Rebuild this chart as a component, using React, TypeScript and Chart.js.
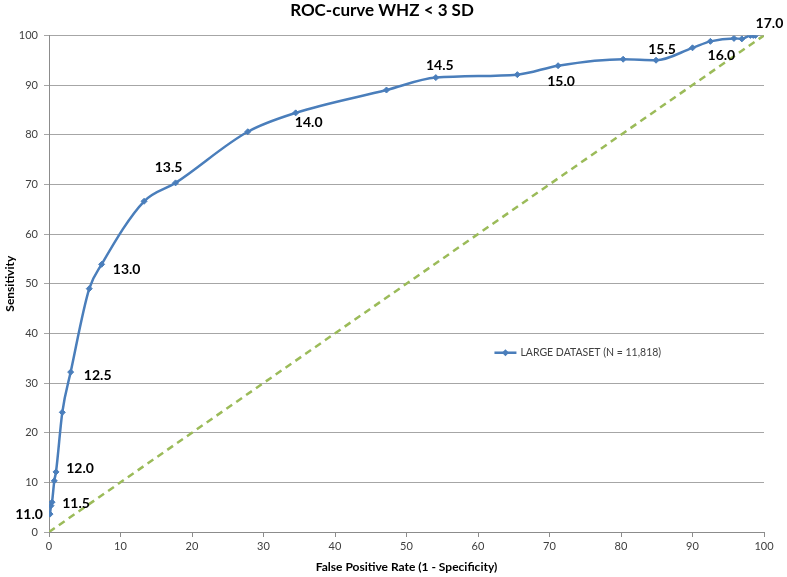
import React, { useEffect, useRef } from "react";
import { Chart, registerables } from "chart.js";

Chart.register(...registerables);

// False positive rate (1 - specificity), %
const fpr = [0.14, 0.28, 0.42, 0.74, 0.98, 1.86, 3.03, 5.63, 7.36, 13.3, 17.7, 27.8, 34.5, 47.2, 54.1, 65.5, 71.2, 80.3, 84.9, 90.0, 92.5, 95.8, 96.9, 98.1, 98.5, 98.8];
// Sensitivity, %
const sensitivity = [3.6, 5.3, 6.0, 10.3, 12.1, 24.1, 32.2, 49.0, 53.9, 66.6, 70.3, 80.6, 84.4, 89.0, 91.5, 92.1, 93.9, 95.2, 95.0, 97.5, 98.8, 99.4, 99.3, 100, 100, 100];
// Cut-off labels (empty = unlabeled point)
const cutoffs = ["11.0", "", "11.5", "", "12.0", "", "12.5", "", "13.0", "", "13.5", "", "14.0", "", "14.5", "", "15.0", "", "15.5", "", "16.0", "", "", "", "", "17.0"];
const referenceLine = [
  { x: 0, y: 0 },
  { x: 100, y: 100 },
];
const seriesName = "LARGE DATASET (N = 11,818)";
const titleText = "ROC-curve WHZ < 3 SD";
const xTitle = "False Positive Rate (1 - Specificity)";
const yTitle = "Sensitivity";

// label offsets (style), in pixels, keyed by cut-off text
const labelOffsets: Record<string, [number, number]> = {
  "11.0": [-21, 0],
  "11.5": [24, 1],
  "12.0": [24, -3],
  "12.5": [27, 3],
  "13.0": [25, 5],
  "13.5": [-7, -15],
  "14.0": [13, 10],
  "14.5": [4, -12],
  "15.0": [3, 16],
  "15.5": [6, -11],
  "16.0": [11, 14],
  "17.0": [14, -12],
};

const FONT = "Lato";
const BLUE = "#4A7EBB";
const GREEN = "#9BBB59";

const labelPlugin = {
  id: "cutoffLabels",
  afterDatasetsDraw(chart: any) {
    const ctx = chart.ctx;
    const meta = chart.getDatasetMeta(1);
    ctx.save();
    ctx.font = `bold 14px ${FONT}`;
    ctx.fillStyle = "#000000";
    ctx.textAlign = "center";
    ctx.textBaseline = "middle";
    meta.data.forEach((pt: any, i: number) => {
      const t = cutoffs[i];
      if (!t) return;
      const off = labelOffsets[t] || [0, -12];
      ctx.fillText(t, pt.x + off[0], pt.y + off[1]);
    });
    ctx.restore();
  },
};

const legendPlugin = {
  id: "insideLegend",
  afterDraw(chart: any) {
    const ctx = chart.ctx;
    const a = chart.chartArea;
    const x0 = a.left + (a.right - a.left) * 0.623;
    const y0 = a.top + (a.bottom - a.top) * 0.639;
    ctx.save();
    ctx.strokeStyle = BLUE;
    ctx.lineWidth = 2.5;
    ctx.beginPath();
    ctx.moveTo(x0, y0);
    ctx.lineTo(x0 + 22, y0);
    ctx.stroke();
    ctx.fillStyle = BLUE;
    ctx.beginPath();
    const cx = x0 + 11;
    ctx.moveTo(cx, y0 - 3.5);
    ctx.lineTo(cx + 3.5, y0);
    ctx.lineTo(cx, y0 + 3.5);
    ctx.lineTo(cx - 3.5, y0);
    ctx.closePath();
    ctx.fill();
    ctx.font = `10.5px ${FONT}`;
    ctx.fillStyle = "#404040";
    ctx.textAlign = "left";
    ctx.textBaseline = "middle";
    ctx.fillText(seriesName, x0 + 26, y0);
    ctx.restore();
  },
};

export default function App() {
  const ref = useRef<HTMLCanvasElement | null>(null);
  useEffect(() => {
    if (!ref.current) return;
    const points = fpr.map((x, i) => ({ x, y: sensitivity[i] }));
    const chart = new Chart(ref.current, {
      type: "scatter",
      data: {
        datasets: [
          {
            label: "Reference",
            data: referenceLine,
            showLine: true,
            borderColor: GREEN,
            borderWidth: 2.5,
            borderDash: [7, 5],
            pointRadius: 0,
            fill: false,
          },
          {
            label: seriesName,
            data: points,
            showLine: true,
            borderColor: BLUE,
            backgroundColor: BLUE,
            borderWidth: 2.5,
            tension: 0.35,
            cubicInterpolationMode: "monotone",
            pointStyle: "rectRot",
            pointRadius: 3,
            pointBorderWidth: 1,
            pointBackgroundColor: BLUE,
            pointBorderColor: BLUE,
            fill: false,
          },
        ],
      },
      options: {
        responsive: false,
        animation: false,
        devicePixelRatio: 1,
        layout: { padding: { left: 0, right: 23, top: 0, bottom: 0 } },
        plugins: {
          legend: { display: false },
          tooltip: { enabled: false },
          title: {
            display: true,
            text: titleText,
            color: "#000000",
            font: { family: FONT, size: 17, weight: "bold" },
            padding: { top: 0, bottom: 15 },
          },
        },
        scales: {
          x: {
            type: "linear",
            min: 0,
            max: 100,
            afterFit(scale: any) {
              scale.height = 45;
            },
            ticks: {
              stepSize: 10,
              color: "#404040",
              font: { family: FONT, size: 11 },
              padding: 3,
              maxRotation: 0,
            },
            grid: {
              drawOnChartArea: false,
              drawTicks: true,
              tickLength: 5,
              color: "#8C8C8C",
            },
            border: { display: true, color: "#8C8C8C", width: 1 },
            title: {
              display: true,
              text: xTitle,
              color: "#000000",
              font: { family: FONT, size: 12, weight: "bold" },
              padding: { top: 0, bottom: 3 },
            },
          },
          y: {
            type: "linear",
            min: 0,
            max: 100,
            afterFit(scale: any) {
              scale.width = 49;
            },
            ticks: {
              stepSize: 10,
              color: "#404040",
              font: { family: FONT, size: 11 },
              padding: 6,
            },
            grid: {
              color: "#A6A6A6",
              drawTicks: true,
              tickLength: 5,
              lineWidth: 1,
            },
            border: { display: true, color: "#8C8C8C", width: 1 },
            title: {
              display: true,
              text: yTitle,
              color: "#000000",
              font: { family: FONT, size: 12, weight: "bold" },
              padding: { top: 3, bottom: 0 },
            },
          },
        },
      },
      plugins: [labelPlugin, legendPlugin],
    } as any);
    return () => chart.destroy();
  }, []);
  return (
    <div style={{ position: "absolute", left: 0, top: 0, width: 787, height: 577, background: "#ffffff" }}>
      <canvas ref={ref} width={787} height={577} style={{ display: "block" }} />
    </div>
  );
}
